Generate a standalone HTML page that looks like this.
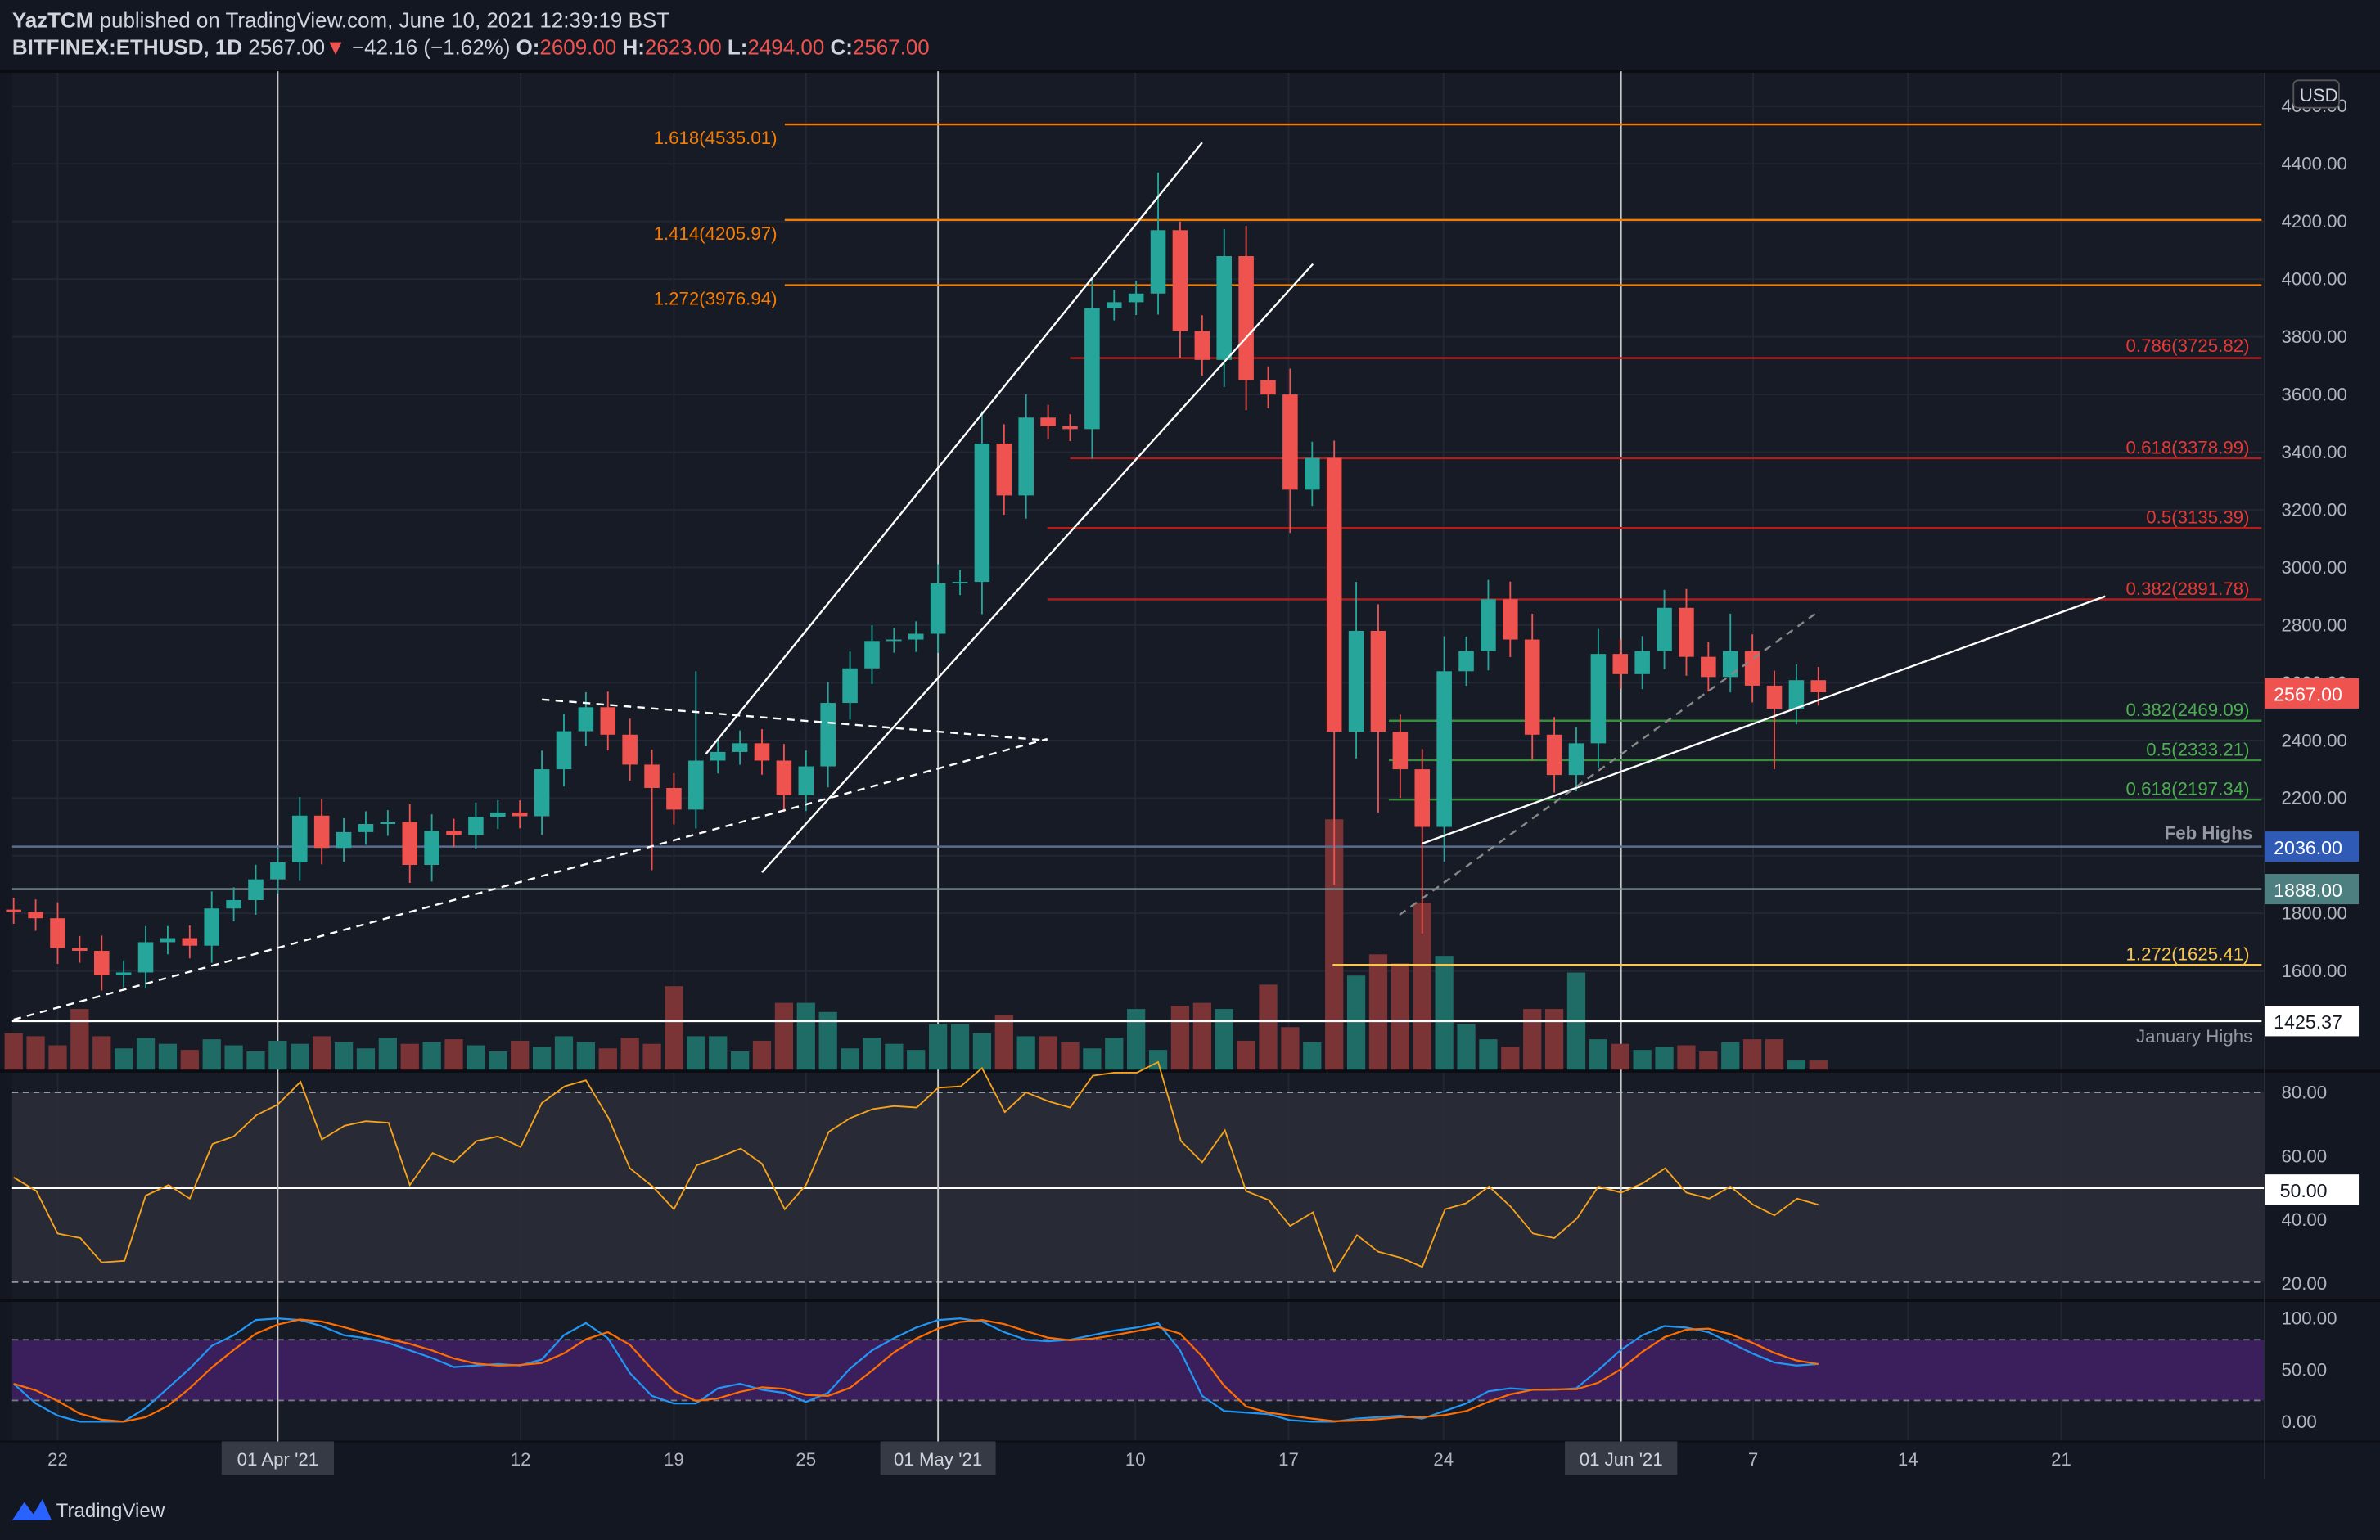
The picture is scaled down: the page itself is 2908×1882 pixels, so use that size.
<!DOCTYPE html>
<html><head><meta charset="utf-8"><style>
html,body{margin:0;padding:0;background:#131722;}
svg{display:block;font-family:"Liberation Sans",sans-serif;}
</style></head><body>
<svg id="s" width="2908" height="1882" viewBox="0 0 1568 1015" preserveAspectRatio="none" xmlns="http://www.w3.org/2000/svg">
<rect x="0" y="0" width="1568" height="1015" fill="#131722"/>
<rect x="8" y="47" width="1484" height="903" fill="#171b26"/>
<g id="grid" stroke="#232734" stroke-width="1"></g>
<rect x="8" y="720" width="1484" height="125" fill="#2a2e39" opacity="0.9"/>
<rect x="8" y="883" width="1484" height="40" fill="#3a1f5c"/>
<line x1="8" y1="720" x2="1492" y2="720" stroke="#9598a1" stroke-dasharray="4,3"/>
<line x1="8" y1="845" x2="1492" y2="845" stroke="#9598a1" stroke-dasharray="4,3"/>
<line x1="8" y1="783" x2="1492" y2="783" stroke="#ffffff" stroke-width="1.3"/>
<line x1="8" y1="883" x2="1492" y2="883" stroke="#787b86" stroke-dasharray="4,3"/>
<line x1="8" y1="923" x2="1492" y2="923" stroke="#787b86" stroke-dasharray="4,3"/>
<line x1="0" y1="706" x2="1568" y2="706" stroke="#0b0d13" stroke-width="2"/>
<line x1="0" y1="857" x2="1568" y2="857" stroke="#0b0d13" stroke-width="2"/>
<line x1="0" y1="950" x2="1568" y2="950" stroke="#0b0d13" stroke-width="1"/>
<line x1="1492" y1="47" x2="1492" y2="975" stroke="#2a2e39"/>
<line x1="0" y1="47" x2="1568" y2="47" stroke="#0b0d13" stroke-width="2"/>
<g stroke="#c8c8c8" stroke-width="1">
<line x1="183" y1="47" x2="183" y2="950"/><line x1="618" y1="47" x2="618" y2="950"/><line x1="1068" y1="47" x2="1068" y2="950"/>
</g>
<g id="vol"></g>
<g stroke-width="1.3">
<line x1="517" y1="82" x2="1490" y2="82" stroke="#f57c00"/>
<line x1="517" y1="145" x2="1490" y2="145" stroke="#f57c00"/>
<line x1="517" y1="188" x2="1490" y2="188" stroke="#f57c00"/>
<line x1="705" y1="236" x2="1490" y2="236" stroke="#b71c1c"/>
<line x1="705" y1="302" x2="1490" y2="302" stroke="#b71c1c"/>
<line x1="690" y1="348" x2="1490" y2="348" stroke="#b71c1c"/>
<line x1="690" y1="395" x2="1490" y2="395" stroke="#b71c1c"/>
<line x1="915" y1="475" x2="1490" y2="475" stroke="#388e3c"/>
<line x1="915" y1="501" x2="1490" y2="501" stroke="#388e3c"/>
<line x1="915" y1="527" x2="1490" y2="527" stroke="#388e3c"/>
<line x1="8" y1="558" x2="1490" y2="558" stroke="#5b6c91"/>
<line x1="8" y1="586" x2="1490" y2="586" stroke="#7f9194"/>
<line x1="878" y1="636" x2="1490" y2="636" stroke="#f9c74f"/>
<line x1="8" y1="673" x2="1490" y2="673" stroke="#ffffff"/>
</g>
<g id="candles"></g>
<g stroke="#ffffff" stroke-width="1.3" fill="none">
<line x1="465" y1="497" x2="792" y2="94"/>
<line x1="502" y1="575" x2="865" y2="174"/>
<line x1="937" y1="556" x2="1387" y2="393"/>
<line x1="357" y1="461" x2="690" y2="488" stroke-dasharray="5,4"/>
<line x1="9" y1="672" x2="690" y2="487" stroke-dasharray="5,4"/>
<line x1="922" y1="603" x2="1198" y2="403" stroke="#888" stroke-dasharray="5,4"/>
</g>
<polyline id="rsi" fill="none" stroke="#f7a21b" stroke-width="1"/>
<polyline id="k" fill="none" stroke="#2196f3" stroke-width="1.2"/>
<polyline id="d" fill="none" stroke="#ff6d00" stroke-width="1.2"/>
<g font-size="12">
<g fill="#f57c00" text-anchor="end">
<text x="512" y="95">1.618(4535.01)</text><text x="512" y="158">1.414(4205.97)</text><text x="512" y="201">1.272(3976.94)</text>
</g>
<g fill="#e53935" text-anchor="end">
<text x="1482" y="232">0.786(3725.82)</text><text x="1482" y="299">0.618(3378.99)</text><text x="1482" y="345">0.5(3135.39)</text><text x="1482" y="392">0.382(2891.78)</text>
</g>
<g fill="#4caf50" text-anchor="end">
<text x="1482" y="472">0.382(2469.09)</text><text x="1482" y="498">0.5(2333.21)</text><text x="1482" y="524">0.618(2197.34)</text>
</g>
<text x="1482" y="633" fill="#f9c74f" text-anchor="end">1.272(1625.41)</text>
<text x="1484" y="553" fill="#9598a1" text-anchor="end" font-weight="bold">Feb Highs</text>
<text x="1484" y="687" fill="#9598a1" text-anchor="end">January Highs</text>
</g>
<g font-size="12" fill="#b2b5be">
<text x="1503" y="74">4600.00</text>
<text x="1503" y="112">4400.00</text><text x="1503" y="150">4200.00</text><text x="1503" y="188">4000.00</text>
<text x="1503" y="226">3800.00</text><text x="1503" y="264">3600.00</text><text x="1503" y="302">3400.00</text>
<text x="1503" y="340">3200.00</text><text x="1503" y="378">3000.00</text><text x="1503" y="416">2800.00</text>
<text x="1503" y="454">2600.00</text><text x="1503" y="492">2400.00</text><text x="1503" y="530">2200.00</text>
<text x="1503" y="568">2000.00</text><text x="1503" y="606">1800.00</text><text x="1503" y="644">1600.00</text>
<text x="1503" y="724">80.00</text><text x="1503" y="766">60.00</text><text x="1503" y="808">40.00</text><text x="1503" y="850">20.00</text>
<text x="1503" y="873">100.00</text><text x="1503" y="907">50.00</text><text x="1503" y="941">0.00</text>
</g>
<rect x="1511" y="53" width="30" height="18" rx="3" fill="#131722" stroke="#555"/>
<text x="1515" y="67" font-size="12" fill="#d1d4dc">USD</text>
<rect x="1492" y="447" width="62" height="20" fill="#ef5350"/><text x="1498" y="462" font-size="12.5" fill="#fff">2567.00</text>
<rect x="1492" y="548" width="62" height="20" fill="#2f5bb7"/><text x="1498" y="563" font-size="12.5" fill="#fff">2036.00</text>
<rect x="1492" y="576" width="62" height="20" fill="#4d7f80"/><text x="1498" y="591" font-size="12.5" fill="#fff">1888.00</text>
<rect x="1492" y="663" width="62" height="20" fill="#ffffff"/><text x="1498" y="678" font-size="12.5" fill="#131722">1425.37</text>
<rect x="1492" y="774" width="62" height="20" fill="#ffffff"/><text x="1502" y="789" font-size="12.5" fill="#131722">50.00</text>
<g font-size="12" fill="#b2b5be" text-anchor="middle">
<text x="38" y="966">22</text><text x="343" y="966">12</text><text x="444" y="966">19</text><text x="531" y="966">25</text>
<text x="748" y="966">10</text><text x="849" y="966">17</text><text x="951" y="966">24</text><text x="1155" y="966">7</text>
<text x="1257" y="966">14</text><text x="1358" y="966">21</text>
</g>
<rect x="146" y="950" width="74" height="22" fill="#363a45"/><text x="183" y="966" font-size="12" fill="#d1d4dc" text-anchor="middle">01 Apr '21</text>
<rect x="580" y="950" width="76" height="22" fill="#363a45"/><text x="618" y="966" font-size="12" fill="#d1d4dc" text-anchor="middle">01 May '21</text>
<rect x="1031" y="950" width="74" height="22" fill="#363a45"/><text x="1068" y="966" font-size="12" fill="#d1d4dc" text-anchor="middle">01 Jun '21</text>
<text x="8" y="18" font-size="14" fill="#d1d4dc"><tspan font-weight="bold">YazTCM</tspan> published on TradingView.com, June 10, 2021 12:39:19 BST</text>
<text x="8" y="36" font-size="14" fill="#d1d4dc"><tspan font-weight="bold">BITFINEX:ETHUSD, 1D</tspan> 2567.00<tspan fill="#ef5350">▼</tspan> −42.16 (−1.62%) <tspan font-weight="bold">O:</tspan><tspan fill="#ef5350">2609.00</tspan> <tspan font-weight="bold">H:</tspan><tspan fill="#ef5350">2623.00</tspan> <tspan font-weight="bold">L:</tspan><tspan fill="#ef5350">2494.00</tspan> <tspan font-weight="bold">C:</tspan><tspan fill="#ef5350">2567.00</tspan></text>
<path d="M8 1002 L16 990 L22 998 L28 988 L34 1002 Z" fill="#2962ff"/>
<text x="37" y="1000" font-size="13" fill="#d1d4dc">TradingView</text>
</svg>
<script>
var NS="http://www.w3.org/2000/svg";
function el(p,t,a){var e=document.createElementNS(NS,t);for(var k in a)e.setAttribute(k,a[k]);p.appendChild(e);return e;}
function Y(p){return 108+(4400-p)*0.19;}
var grid=document.getElementById('grid');
for(var p=1600;p<=4600;p+=200)el(grid,'line',{x1:8,x2:1492,y1:Y(p),y2:Y(p)});
[38,343,444,531,748,849,951,1155,1257,1358].forEach(function(x){el(grid,'line',{x1:x,x2:x,y1:47,y2:950});});
var C=[1805,1783,1680,1670,1585,1595,1700,1714,1688,1817,1846,1918,1977,2139,2027,2082,2110,2117,1968,2086,2072,2135,2150,2137,2300,2432,2515,2420,2316,2235,2160,2330,2360,2390,2330,2210,2310,2530,2650,2745,2750,2770,2945,2950,3430,3250,3520,3490,3480,3900,3920,3950,4170,3820,3720,4080,3650,3600,3270,3380,2430,2780,2430,2300,2100,2640,2710,2890,2750,2420,2280,2390,2700,2630,2710,2860,2690,2620,2710,2590,2510,2609,2567];
var HO={31:2640,52:4370,53:4200,60:3440,61:2950,78:2840};
var LO={29:1950,60:1900,64:1730,62:2150,80:2300,58:3120,63:2200};
var V0={0:14,1:24,2:22,3:16,4:40,5:22,14:17,20:18,31:55,32:22,33:22,36:44,37:44,38:38,43:30,44:30,45:24,46:36,47:22,48:22,52:40,54:42,55:44,56:40,58:56,59:28,61:165,62:62,63:76,64:70,65:110,66:75,67:30,68:20,70:40,71:40,72:64,73:20,76:15,79:18,80:20,81:20,82:6};
var VOL={};for(var k in V0)VOL[(+k)-1]=V0[k];VOL[82]=6;
var cg=document.getElementById('candles'),vg=document.getElementById('vol');
for(var i=0;i<C.length;i++){
 var x=38+(i-2)*14.5,o=i?C[i-1]:1813,c=C[i];
 var h=HO[i]||Math.max(o,c)+Math.abs(o-c)*0.15+40,l=LO[i]||Math.min(o,c)-Math.abs(o-c)*0.15-40;
 var up=c>=o,col=up?'#26a69a':'#ef5350';
 el(cg,'line',{x1:x,x2:x,y1:Y(h),y2:Y(l),stroke:col,'stroke-width':1});
 var t=Y(Math.max(o,c)),b=Y(Math.min(o,c));
 el(cg,'rect',{x:x-5,y:t,width:10,height:Math.max(1,b-t),fill:col});
 var vh=VOL[i]||(12+((i*7)%11));
 el(vg,'rect',{x:x-6,y:705-vh,width:12,height:vh,fill:up?'#1f6b66':'#7a3436'});
}
var R=[[9,776],[24,785],[38,813],[53,816],[67,832],[82,831],[96,788],[111,781],[125,790],[140,754],[154,749],[169,735],[183,728],[198,713],[212,751],[227,742],[241,739],[256,740],[270,781],[285,760],[299,766],[314,752],[328,749],[343,756],[357,727],[372,716],[386,712],[401,737],[415,770],[430,782],[444,797],[459,768],[473,763],[488,757],[502,767],[517,797],[531,781],[546,746],[560,737],[575,731],[589,729],[604,730],[618,717],[633,716],[647,704],[662,733],[676,720],[691,726],[705,730],[720,709],[734,707],[749,707],[763,700],[778,752],[792,766],[807,745],[821,785],[836,791],[850,808],[865,799],[879,838],[894,814],[908,825],[923,829],[937,835],[952,797],[966,793],[981,782],[995,795],[1010,813],[1024,816],[1039,803],[1053,782],[1068,786],[1082,780],[1097,770],[1111,786],[1126,790],[1140,782],[1155,794],[1169,801],[1184,790],[1198,794]];
document.getElementById('rsi').setAttribute('points',R.map(function(p){return p.join(',')}).join(' '));
var K=[912,925,933,937,937,937,928,915,902,887,880,870,869,870,874,880,882,885,890,895,901,900,899,900,896,880,872,882,905,920,925,925,915,912,916,918,924,918,902,890,882,875,870,869,871,878,883,884,883,880,877,875,872,890,920,930,931,932,936,937,937,935,934,933,935,930,925,917,915,916,916,915,903,890,880,874,875,878,885,892,898,900,899];
var kp=[],dp=[];
for(var j=0;j<K.length;j++){var x=9+j*14.5;kp.push(x+','+K[j]);var a=K[Math.max(0,j-2)],b=K[Math.max(0,j-1)];dp.push(x+','+((a+b+K[j])/3));}
document.getElementById('k').setAttribute('points',kp.join(' '));
document.getElementById('d').setAttribute('points',dp.join(' '));
</script>
</body></html>
